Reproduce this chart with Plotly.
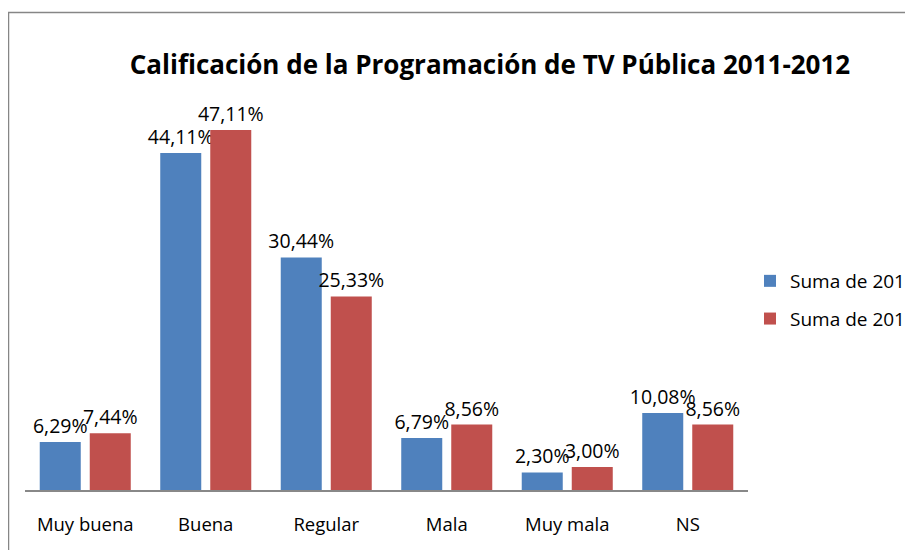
import plotly.graph_objects as go

categories = ["Muy buena", "Buena", "Regular", "Mala", "Muy mala", "NS"]
values_2011 = [6.29, 44.11, 30.44, 6.79, 2.30, 10.08]
values_2012 = [7.44, 47.11, 25.33, 8.56, 3.00, 8.56]
series_names = ["Suma de 2011", "Suma de 2012"]
colors = ["#4F81BD", "#C0504D"]

FONT = "Open Sans"

fig = go.Figure()
for name, vals, col in zip(series_names, [values_2011, values_2012], colors):
    fig.add_trace(go.Bar(
        x=categories, y=vals, name=name, legendgroup=name,
        marker=dict(color=col, line=dict(width=0)),
        texttemplate="%{y:.2f}%", textposition="outside",
        textfont=dict(size=19.5, color="#000000", family=FONT),
        constraintext="none", cliponaxis=False,
    ))

# page body has an 8px margin; work in window pixels and shift
OFF = 8
W, H = 913 - OFF, 550 - OFF
L = 25 - OFF
R = 913 - 748
T = 108 - OFF
B = 550 - 490
pw, ph = W - L - R, H - T - B

def px_x(x):  # x in window pixels
    return (x - OFF - L) / pw

def px_y(y):  # y in window pixels
    return (H - B - (y - OFF)) / ph

fig.update_layout(
    width=W, height=H,
    margin=dict(l=L, r=R, t=T, b=B, pad=0, autoexpand=False),
    paper_bgcolor="white", plot_bgcolor="white",
    separators=",.",
    barmode="group", bargap=0.17, bargroupgap=0.18,
    font=dict(family=FONT, size=18, color="#000000"),
    title=dict(
        text="<b>Calificación de la Programación de TV Pública 2011-2012</b>",
        x=(490 - OFF) / W, xanchor="center", xref="container",
        y=1 - (65 - OFF) / H, yanchor="middle", yref="container",
        font=dict(size=26, family=FONT, color="#000000"),
    ),
    showlegend=True,
    legend=dict(
        x=px_x(750), xanchor="left", y=px_y(300), yanchor="middle",
        font=dict(size=19, family=FONT, color="#000000"),
        tracegroupgap=10, itemwidth=30, bgcolor="rgba(0,0,0,0)",
    ),
    xaxis=dict(
        showline=True, linecolor="#888888", linewidth=1.5,
        ticks="", showgrid=False, ticklabelstandoff=17,
        tickfont=dict(size=18.5, family=FONT, color="#000000"),
    ),
    yaxis=dict(range=[0, 50], visible=False, showgrid=False, zeroline=False),
    shapes=[dict(
        type="rect", xref="paper", yref="paper",
        x0=px_x(8.5), x1=px_x(1000), y0=px_y(12.5), y1=px_y(700),
        line=dict(color="#868686", width=1.5), fillcolor="rgba(0,0,0,0)",
        layer="below",
    )],
)

fig.write_html("out.html")
